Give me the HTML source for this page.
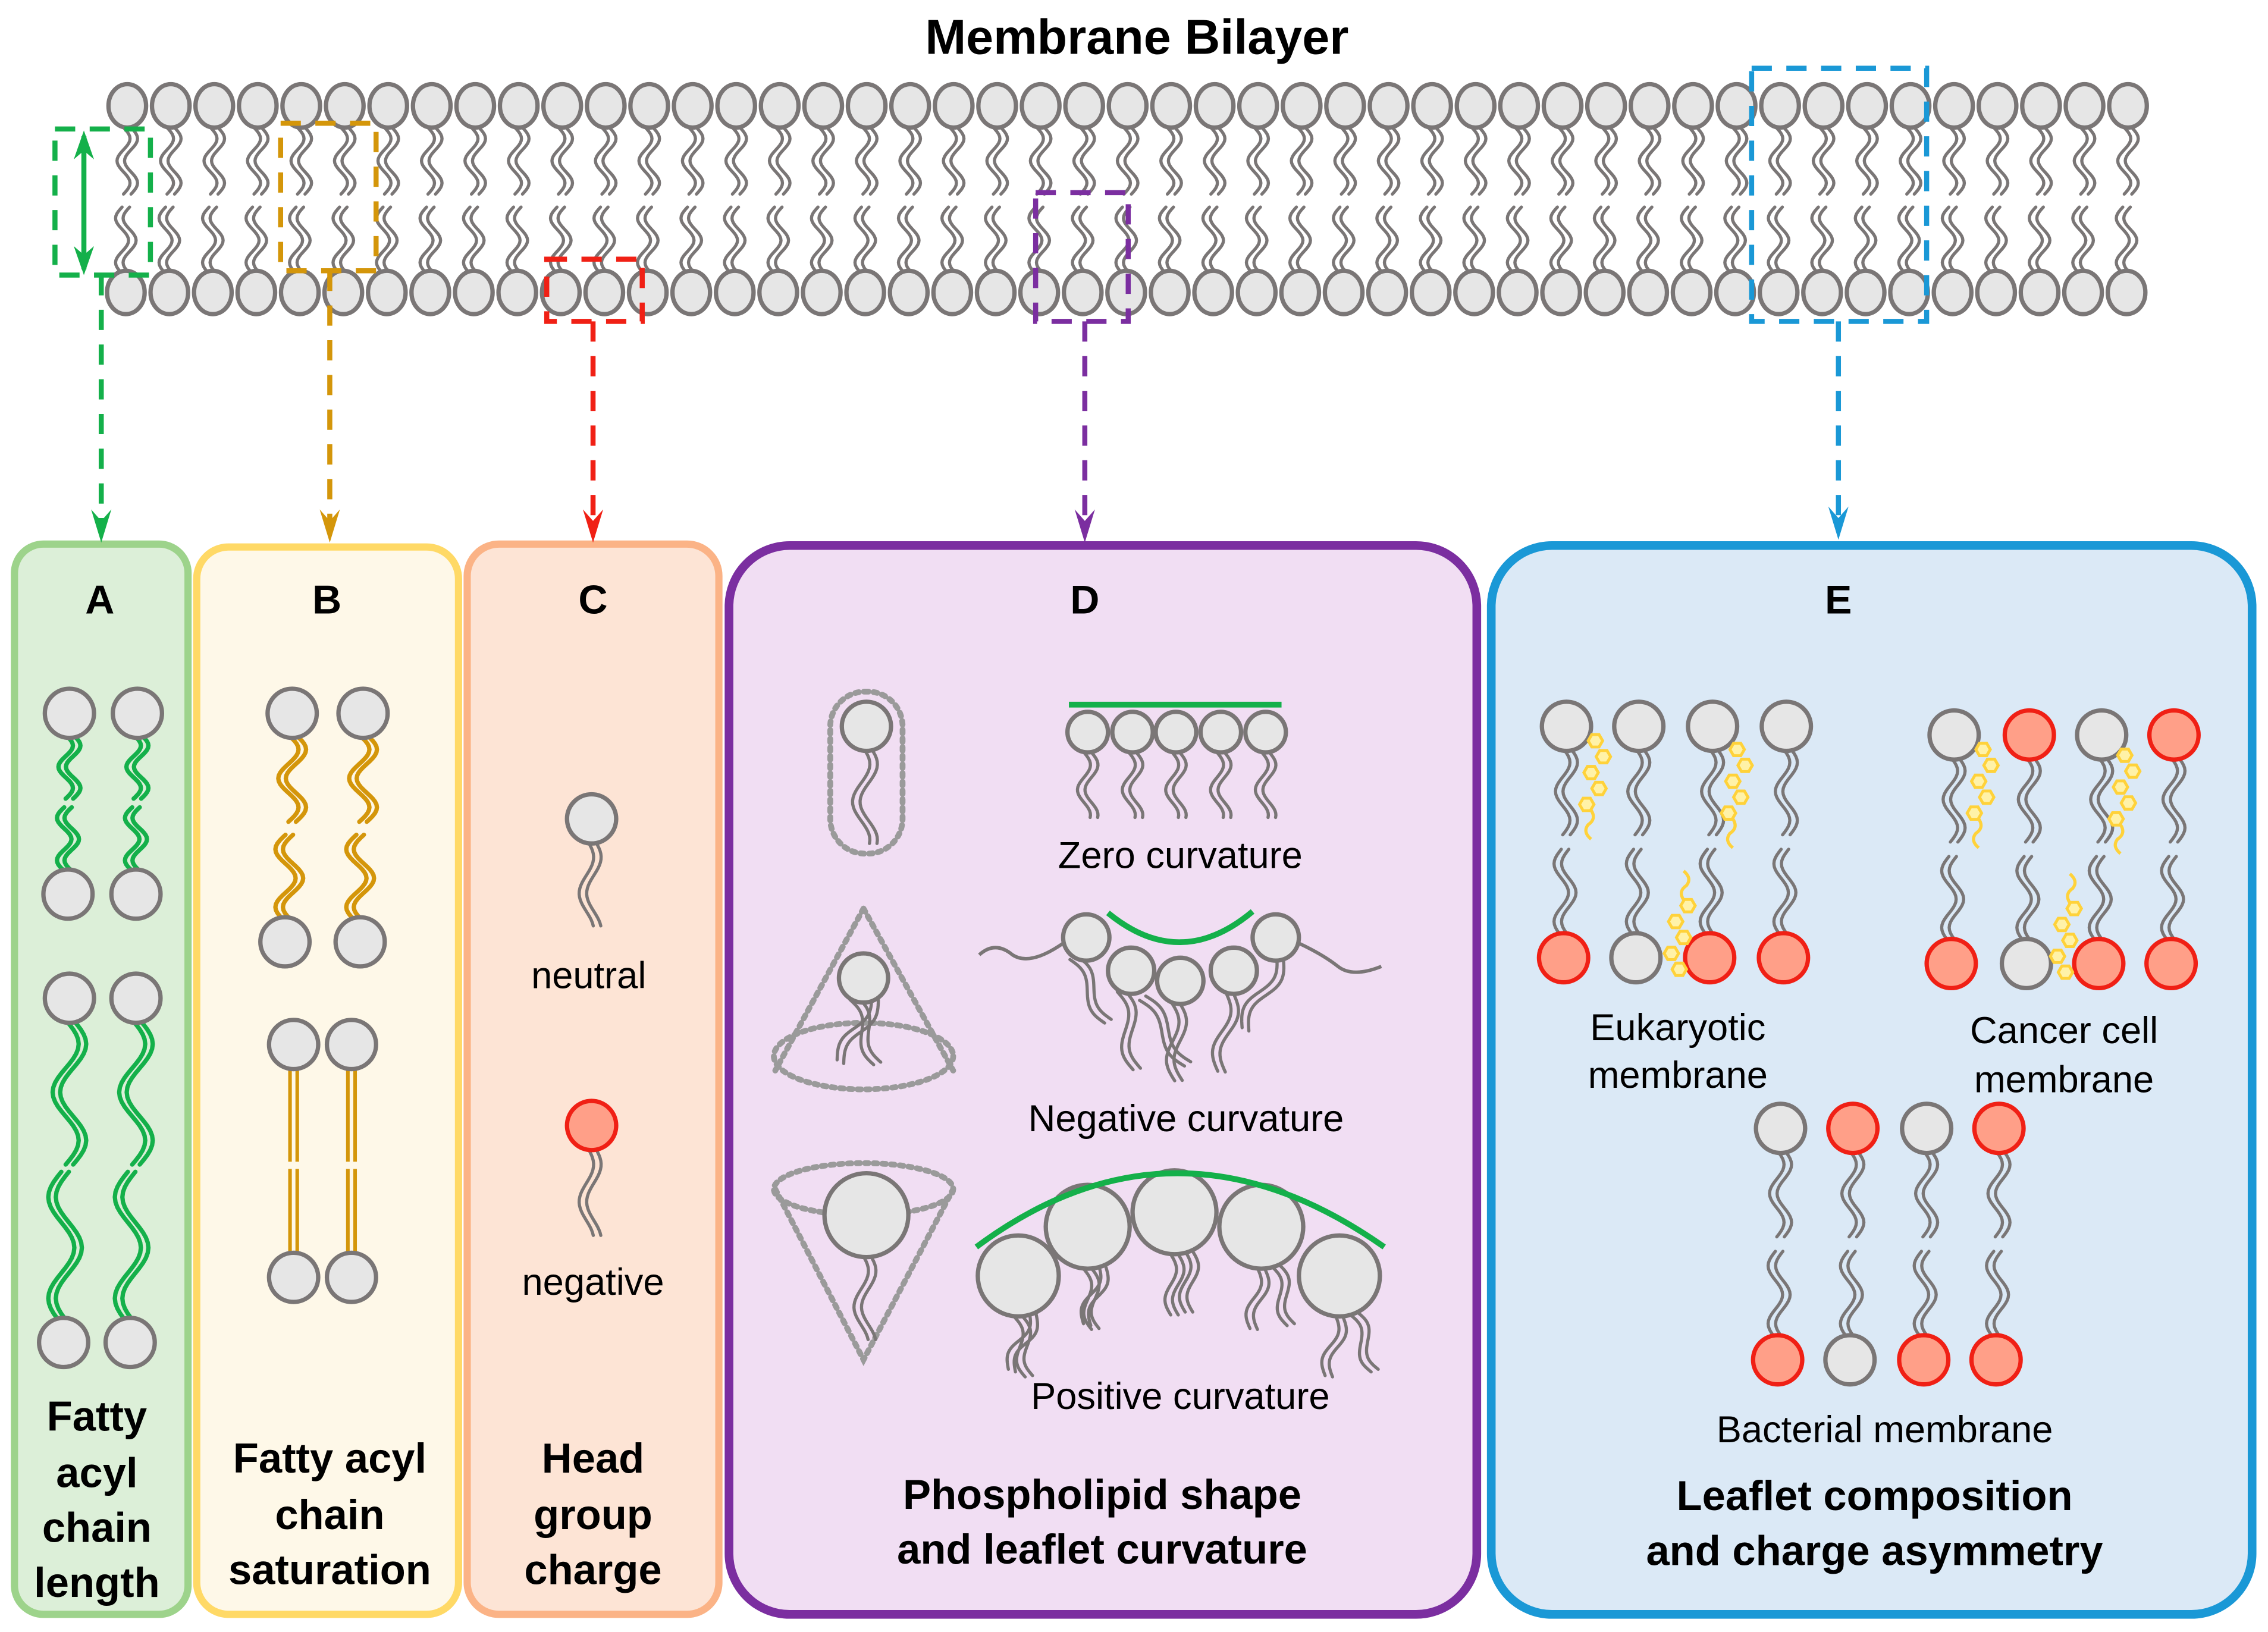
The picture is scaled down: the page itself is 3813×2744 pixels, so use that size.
<!DOCTYPE html>
<html><head><meta charset="utf-8"><style>
html,body{margin:0;padding:0;background:#fff;}
svg{display:block;}
text{font-family:"Liberation Sans Narrow","Liberation Sans",Arial,sans-serif;}
</style></head><body>
<svg id="s" width="3813" height="2744" viewBox="0 0 1568 1128" xmlns="http://www.w3.org/2000/svg">
<rect width="1568" height="1128" fill="#fff"/>
<text x="786" y="37" font-size="34" font-weight="bold" text-anchor="middle">Membrane Bilayer</text>
<g id="bil"></g>
<rect x="10" y="376" width="120" height="740" rx="20" fill="#dcefd8" stroke="#9dd38b" stroke-width="5"/>
<rect x="136" y="378" width="181" height="738" rx="22" fill="#fef8e8" stroke="#ffd966" stroke-width="5"/>
<rect x="323" y="376" width="174" height="740" rx="22" fill="#fde4d5" stroke="#fbb386" stroke-width="5"/>
<rect x="504" y="377" width="517" height="739" rx="42" fill="#f1def3" stroke="#7b2ea0" stroke-width="6"/>
<rect x="1031" y="377" width="526" height="739" rx="42" fill="#dbe9f6" stroke="#1a98d6" stroke-width="6"/>
<g font-weight="bold" font-size="28" text-anchor="middle" style="font-family:'Liberation Sans',Arial,sans-serif">
<text x="69" y="424">A</text><text x="226" y="424">B</text><text x="410" y="424">C</text><text x="750" y="424">D</text><text x="1271" y="424">E</text>
</g>
<g font-weight="bold" font-size="29" text-anchor="middle" style="font-family:'Liberation Sans',Arial,sans-serif">
<text x="67" y="989">Fatty</text><text x="67" y="1028">acyl</text><text x="67" y="1066">chain</text><text x="67" y="1104">length</text>
<text x="228" y="1018">Fatty acyl</text><text x="228" y="1057">chain</text><text x="228" y="1095">saturation</text>
<text x="410" y="1018">Head</text><text x="410" y="1057">group</text><text x="410" y="1095">charge</text>
<text x="762" y="1043">Phospholipid shape</text><text x="762" y="1081">and leaflet curvature</text>
<text x="1296" y="1044">Leaflet composition</text><text x="1296" y="1082">and charge asymmetry</text>
</g>
<g font-size="26" text-anchor="middle" style="font-family:'Liberation Sans',Arial,sans-serif">
<text x="407" y="683">neutral</text><text x="410" y="895">negative</text>
<text x="816" y="600">Zero curvature</text>
<text x="820" y="782">Negative curvature</text>
<text x="816" y="974">Positive curvature</text>
<text x="1160" y="719">Eukaryotic</text><text x="1160" y="752">membrane</text>
<text x="1427" y="721">Cancer cell</text><text x="1427" y="755">membrane</text>
<text x="1303" y="997">Bacterial membrane</text>
</g>
<g fill="none" stroke="#9a9a9a" stroke-width="4" stroke-dasharray="2.5 3.5" stroke-linecap="round">
<rect x="574" y="478" width="50" height="112" rx="24"/>
<path d="M597 628 L536 740 M597 628 L659 740"/>
<ellipse cx="597" cy="730" rx="62" ry="23"/>
<ellipse cx="597" cy="822" rx="62" ry="18"/>
<path d="M536 822 L597 940 L659 822"/>
</g>
<g id="dyn"></g>
<g fill="none" stroke="#14b04a" stroke-width="4">
<path d="M739 487 H886"/>
<path d="M766 631 Q816 672 866 630"/>
<path d="M675 862 Q812 760 957 862"/>
</g>
<g fill="none" stroke-width="3.5" stroke-dasharray="14 10">
<rect x="38" y="89" width="66" height="101" stroke="#14b04a"/>
<path d="M70 190 V365" stroke="#14b04a"/>
<rect x="194" y="85" width="66" height="102" stroke="#d4960a"/>
<path d="M228 187 V365" stroke="#d4960a"/>
<rect x="378" y="179" width="66" height="43" stroke="#f02015"/>
<path d="M410 222 V365" stroke="#f02015"/>
<rect x="716" y="133" width="64" height="89" stroke="#7b2ea0"/>
<path d="M750 222 V365" stroke="#7b2ea0"/>
<rect x="1211" y="47" width="121" height="175" stroke="#1a98d6"/>
<path d="M1271 222 V363" stroke="#1a98d6"/>
</g>
<path d="M58 94 V186" stroke="#14b04a" stroke-width="3.5"/>
<path d="M58 90 L51 110 L58 104 L65 110Z M58 190 L51 170 L58 176 L65 170Z" fill="#14b04a"/>
<path d="M70 375 L63 352 L70 360 L77 352Z" fill="#14b04a"/>
<path d="M228 375 L221 352 L228 360 L235 352Z" fill="#d4960a"/>
<path d="M410 375 L403 352 L410 360 L417 352Z" fill="#f02015"/>
<path d="M750 375 L743 352 L750 360 L757 352Z" fill="#7b2ea0"/>
<path d="M1271 373 L1264 350 L1271 358 L1278 350Z" fill="#1a98d6"/>
</svg>
<script>
(function(){
var NS="http://www.w3.org/2000/svg";
function el(p,t,a){var e=document.createElementNS(NS,t);for(var k in a)e.setAttribute(k,a[k]);p.appendChild(e);return e;}
var G="#7a7676",GF="#e6e6e6",R="#f02015",RF="#ff9f88",GR="#14b04a",OR="#d4960a";
function chain(p,x0,y0,L,ang,col,cyc,amp,sw,ph){
  ph=ph||0;
  var dx=Math.sin(ang),dy=Math.cos(ang),nx=Math.cos(ang),ny=-Math.sin(ang);
  [-2.6,2.6].forEach(function(o){
    var d="";
    for(var i=0;i<=30;i++){var t=i/30*L;var w=amp*Math.sin(t/L*cyc*2*Math.PI+ph)+o;
      var x=x0+dx*t+nx*w,y=y0+dy*t+ny*w;d+=(i?"L":"M")+x.toFixed(2)+" "+y.toFixed(2);}
    el(p,"path",{d:d,fill:"none",stroke:col,"stroke-width":sw||2.2,"stroke-linecap":"round"});
  });
}
function head(p,x,y,r,neg,ry){el(p,"ellipse",{cx:x,cy:y,rx:r,ry:ry||r,fill:neg?RF:GF,stroke:neg?R:G,"stroke-width":3});}
var b=document.getElementById("bil"),d=document.getElementById("dyn");
for(var i=0;i<47;i++){
  var x=88+i*30.07;
  chain(b,x,88,46,0,G,1.5,4.5,2.2,0);
  chain(b,x-1,143,46,0,G,1.5,4.5,2.2,Math.PI);
}
for(var i=0;i<47;i++){var x=88+i*30.07;head(b,x,73,13,false,15);head(b,x-1,202,13,false,15);}
[48,95].forEach(function(x){chain(d,x,508,44,0,GR,1.5,5,3);chain(d,x-1,558,44,0,GR,1.5,5,3,Math.PI);});
[48,94].forEach(function(x){chain(d,x,705,100,0,GR,1.5,9,3);chain(d,x-3,810,105,0,GR,1.5,9,3,Math.PI);});
head(d,48,493,17);head(d,95,493,17);head(d,47,618,17);head(d,94,618,17);
head(d,48,690,17);head(d,94,690,17);head(d,44,928,17);head(d,90,928,17);
[202,251].forEach(function(x){chain(d,x,508,60,0,OR,1.5,7,3);chain(d,x-2,577,60,0,OR,1.5,7,3,Math.PI);});
[203,243].forEach(function(x){
  el(d,"path",{d:"M"+(x-2.5)+" 738V803M"+(x+2.5)+" 738V803M"+(x-2.5)+" 808V868M"+(x+2.5)+" 808V868",stroke:OR,"stroke-width":2.5,fill:"none"});
});
head(d,202,493,17);head(d,251,493,17);head(d,197,651,17);head(d,249,651,17);
head(d,203,722,17);head(d,243,722,17);head(d,203,883,17);head(d,243,883,17);
chain(d,408,580,60,0,G,1.2,5,2.2);chain(d,408,792,62,0,G,1.2,5,2.2);
head(d,409,566,17);head(d,409,778,17,true);
chain(d,598,515,68,0,G,1.3,6,2.2);head(d,599,502,17);
chain(d,590,690,48,0.35,G,1,4,2.2);chain(d,605,690,50,-0.5,G,1,4,2.2);head(d,597,676,17);
chain(d,598,866,60,0,G,1.2,5,2.2);head(d,599,840,29);
[752,783,813,844,875].forEach(function(x){chain(d,x,520,45,0,G,1.3,4.5,2.2);});
[752,783,813,844,875].forEach(function(x){head(d,x,506,14);});
var nh=[[751,648],[782,671],[816,678],[853,671],[882,648]];
el(d,"path",{d:"M677 660 Q688 650 700 660 Q712 668 735 652",fill:"none",stroke:G,"stroke-width":2.4});
el(d,"path",{d:"M898 652 Q915 660 925 668 Q935 676 955 668",fill:"none",stroke:G,"stroke-width":2.4});
chain(d,742,662,50,0.5,G,1,4,2.2);chain(d,775,685,55,0.2,G,1,5,2.2);chain(d,812,692,55,0.05,G,1,5,2.2);
chain(d,850,686,55,-0.1,G,1,5,2.2);chain(d,885,662,55,-0.45,G,1,5,2.2);chain(d,790,690,55,0.6,G,1,4,2.2);
nh.forEach(function(h){head(d,h[0],h[1],16);});
var ph=[[704,882,28,0.35],[752,848,29,0.25],[812,838,29,0],[872,848,29,-0.25],[926,882,28,-0.35]];
ph.forEach(function(h){chain(d,h[0],h[1]+h[2],42,h[3]*0.5,G,1,4,2.2);chain(d,h[0]+10,h[1]+h[2]-2,42,-h[3],G,1,4,2.2);});
ph.forEach(function(h){head(d,h[0],h[1],h[2]);});
function chol(x,y,up){
  var g=el(d,"g",{});
  var pts=[];for(var i=0;i<5;i++){pts.push([x+(i%2?4:-3)+i*-1.5,y+i*11]);}
  pts.forEach(function(p){el(g,"polygon",{points:[0,1,2,3,4,5].map(function(k){var a=k*Math.PI/3;return (p[0]+5*Math.cos(a)).toFixed(1)+","+(p[1]+5*Math.sin(a)).toFixed(1);}).join(" "),fill:"#fff2a8",stroke:"#ffd23a","stroke-width":2});});
  el(g,"path",{d:"M"+(x-6)+" "+(y+48)+" q4 6 -2 10 q-4 5 2 10",fill:"none",stroke:"#ffd23a","stroke-width":2.2});
  if(!up)g.setAttribute("transform","rotate(180 "+x+" "+(y+30)+")");
}
function pair(x,yt,yb,nt,nb){
  var mid=(yt+yb)/2;
  chain(d,x,yt+15,mid-yt-20,0,G,1.5,5,2.2);
  chain(d,x-1,mid+5,yb-mid-20,0,G,1.5,5,2.2,Math.PI);
  head(d,x,yt,17,nt);head(d,x-2,yb,17,nb);
}
pair(1083,502,662,0,1);pair(1133,502,662,0,0);pair(1184,502,662,0,1);pair(1235,502,662,0,1);
chol(1106,512,1);chol(1204,518,1);chol(1158,610,0);
pair(1351,508,666,0,1);pair(1403,508,666,1,0);pair(1453,508,666,0,1);pair(1503,508,666,1,1);
chol(1374,518,1);chol(1472,522,1);chol(1425,612,0);
pair(1231,780,940,0,1);pair(1281,780,940,1,0);pair(1332,780,940,0,1);pair(1382,780,940,1,1);
})();
</script>
</body></html>
